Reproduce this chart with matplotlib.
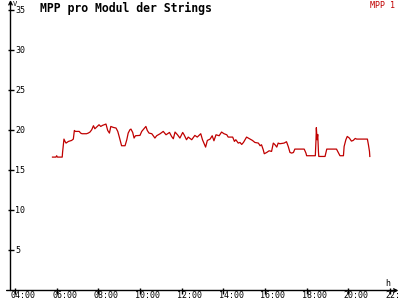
import numpy as np
import matplotlib
matplotlib.use('Agg')
import matplotlib.pyplot as plt
import matplotlib.transforms as mtransforms

# MPP voltage per module (time of day, volts)
times = ['05:48', '05:58', '06:00', '06:02', '06:16', '06:17', '06:21', '06:24', '06:27', '06:34',
         '06:43', '06:48', '06:51', '06:54', '07:05', '07:09', '07:13', '07:26', '07:31', '07:36',
         '07:41', '07:46', '07:50', '07:55', '08:02', '08:07', '08:12', '08:22', '08:27', '08:32',
         '08:36', '08:43', '08:51', '08:56', '09:00', '09:07', '09:17', '09:22', '09:26', '09:31',
         '09:34', '09:39', '09:43', '09:47', '10:00', '10:05', '10:17', '10:21', '10:26', '10:34',
         '10:38', '10:43', '10:48', '10:58', '11:07', '11:15', '11:25', '11:31', '11:36', '11:41',
         '11:48', '11:55', '12:03', '12:07', '12:14', '12:19', '12:29', '12:38', '12:45', '12:55',
         '13:00', '13:04', '13:09', '13:14', '13:22', '13:28', '13:33', '13:39', '13:48', '13:55',
         '14:02', '14:10', '14:14', '14:27', '14:32', '14:36', '14:43', '14:48', '14:53', '14:58',
         '15:07', '15:17', '15:24', '15:31', '15:41', '15:46', '15:50', '15:55', '15:58', '16:05',
         '16:12', '16:19', '16:24', '16:29', '16:34', '16:38', '16:43', '16:55', '17:02', '17:07',
         '17:12', '17:17', '17:22', '17:26', '17:53', '17:58', '18:00', '18:25', '18:27', '18:28',
         '18:30', '18:32', '18:34', '18:35', '18:53', '18:58', '19:26', '19:31', '19:36', '19:46',
         '19:48', '19:53', '19:57', '20:03', '20:09', '20:14', '20:20', '20:24', '20:55', '20:58',
         '21:01', '21:02']
volts = [16.67, 16.67, 16.84, 16.67, 16.67, 17.25, 18.92, 18.63, 18.42, 18.63,
         18.75, 18.92, 20.0, 19.88, 19.88, 19.67, 19.59, 19.59, 19.67, 19.80,
         20.09, 20.59, 20.21, 20.42, 20.71, 20.5, 20.63, 20.8, 20.0, 19.67,
         20.5, 20.38, 20.3, 19.88, 19.25, 18.09, 18.09, 18.84, 19.67, 20.09,
         20.17, 19.75, 19.05, 19.34, 19.38, 19.88, 20.5, 20.0, 19.67, 19.59,
         19.34, 19.05, 19.34, 19.59, 19.88, 19.46, 19.75, 19.25, 18.96, 19.80,
         19.46, 19.05, 19.75, 19.46, 18.84, 19.17, 18.84, 19.38, 19.17, 19.59,
         18.84, 18.42, 17.92, 18.75, 18.92, 19.34, 18.71, 19.46, 19.34, 19.80,
         19.59, 19.46, 19.17, 19.17, 18.63, 18.84, 18.42, 18.5, 18.25, 18.5,
         19.17, 18.92, 18.75, 18.5, 18.42, 18.09, 18.21, 17.59, 17.09, 17.25,
         17.46, 17.38, 18.42, 18.21, 17.92, 18.42, 18.34, 18.42, 18.59, 18.0,
         17.25, 17.17, 17.25, 17.67, 17.67, 17.17, 16.84, 16.84, 18.84, 20.35,
         18.84, 19.5, 17.38, 16.75, 16.75, 17.67, 17.67, 17.25, 16.84, 16.84,
         18.0, 18.84, 19.25, 19.05, 18.67, 18.75, 19.0, 18.92, 18.92, 18.21,
         17.38, 16.75]

xticks = [4, 6, 8, 10, 12, 14, 16, 18, 20, 22]
xlabels = ['04:00', '06:00', '08:00', '10:00', '12:00', '14:00', '16:00', '18:00', '20:00', '22:00']
yticks = [5, 10, 15, 20, 25, 30, 35]

hours = [int(t[:2]) + int(t[3:]) / 60 for t in times]

mono = 'DejaVu Sans Mono'
red = '#c00000'

fig = plt.figure(figsize=(4, 3), dpi=100)
fig.patch.set_facecolor('white')
ax = fig.add_axes([10.5 / 400, 9.5 / 300, 388 / 400, 290.5 / 300])
ax.set_facecolor('white')
ax.set_xlim(3.784, 22.41)
ax.set_ylim(0, 36.3)

ax.plot(hours, volts, color=red, lw=0.9)

for s in ['top', 'right', 'left', 'bottom']:
    ax.spines[s].set_visible(False)
# axes with open arrow heads
ax.annotate('', xy=(0, 1.0), xytext=(0, 0), xycoords='axes fraction',
            arrowprops=dict(arrowstyle='->', lw=1.0, color='black', shrinkA=0, shrinkB=0,
                            mutation_scale=6))
ax.annotate('', xy=(1.0, 0), xytext=(-0.01, 0), xycoords='axes fraction',
            arrowprops=dict(arrowstyle='->', lw=1.0, color='black', shrinkA=0, shrinkB=0,
                            mutation_scale=6))

ax.set_xticks(xticks)
ax.set_yticks(yticks)
ax.tick_params(direction='inout', length=4.5, width=1.0, color='black',
               labelbottom=False, labelleft=False)

# tick labels: y to the right of the axis, x below and slightly left of the tick
yoff = mtransforms.ScaledTranslation(5 / 100, 0, fig.dpi_scale_trans)
for v in yticks:
    ax.text(0, v, str(v), transform=ax.get_yaxis_transform() + yoff,
            ha='left', va='center', fontsize=6, family=mono, color='black')
xoff = mtransforms.ScaledTranslation(-4.5 / 100, -1 / 100, fig.dpi_scale_trans)
for x, lab in zip(xticks, xlabels):
    ax.text(x, 0, lab, transform=ax.get_xaxis_transform() + xoff,
            ha='left', va='top', fontsize=6, family=mono, color='black', clip_on=False)

fig.text(13 / 400, 1 - 0.5 / 300, 'V', ha='left', va='top', fontsize=5, family=mono)
fig.text(385 / 400, 1 - 279 / 300, 'h', ha='left', va='top', fontsize=6, family=mono)
fig.text(40 / 400, 1 - 2 / 300, 'MPP pro Modul der Strings', ha='left', va='top',
         fontsize=8.3, family=mono, weight='bold')
fig.text(395 / 400, 1 - 1 / 300, 'MPP 1', ha='right', va='top', fontsize=6,
         family=mono, color=red)

fig.savefig('out.png', dpi=100, facecolor='white')
